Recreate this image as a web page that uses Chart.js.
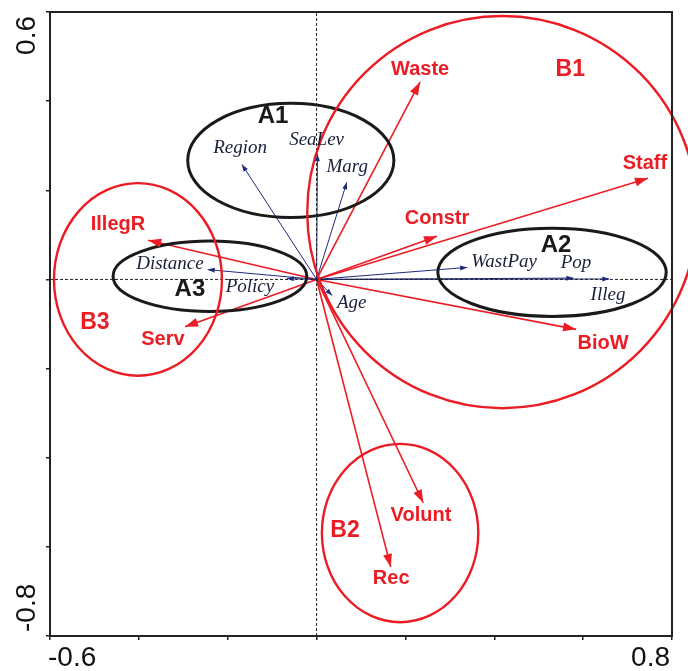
<!DOCTYPE html>
<html>
<head>
<meta charset="utf-8">
<script src="https://cdn.jsdelivr.net/npm/chart.js@4.4.0/dist/chart.umd.min.js"></script>
<style>
  html, body { margin: 0; padding: 0; background: #fff; }
  #wrap { width: 688px; height: 671px; }
</style>
</head>
<body>
<div id="wrap"><canvas id="c" width="688" height="671"></canvas></div>
<script>
// ── Data ──────────────────────────────────────────────────────────────────────
// response variables (red arrows, tip coordinates)
const redNames  = ["Waste", "Staff", "Constr", "BioW", "IllegR", "Serv", "Volunt", "Rec"];
const redX      = [0.233, 0.746, 0.271, 0.584, -0.379, -0.296, 0.240, 0.167];
const redY      = [0.443, 0.227, 0.097, -0.112, 0.088, -0.106, -0.501, -0.645];
const redLabelX = [0.233, 0.739, 0.271, 0.645, -0.447, -0.346, 0.235, 0.168];
const redLabelY = [0.470, 0.261, 0.137, -0.144, 0.124, -0.135, -0.530, -0.670];

// explanatory variables (blue arrows)
const blueNames  = ["Region", "SeaLev", "Marg", "WastPay", "Pop", "Illeg", "Distance", "Policy", "Age"];
const blueX      = [-0.168, 0.002, 0.068, 0.339, 0.578, 0.659, -0.245, -0.067, 0.035];
const blueY      = [0.258, 0.281, 0.218, 0.027, 0.003, 0.001, 0.022, 0.002, -0.036];
const blueLabelX = [-0.172, 0.000, 0.069, 0.422, 0.584, 0.656, -0.330, -0.150, 0.079];
const blueLabelY = [0.294, 0.312, 0.252, 0.040, 0.036, -0.036, 0.034, -0.018, -0.052];

// groups (ellipses): centre, radii in axis units
const groupNames = ["A1", "A2", "A3", "B1", "B2", "B3"];
const groupCx    = [-0.058, 0.530, -0.240, 0.418, 0.188, -0.402];
const groupCy    = [0.267, 0.016, 0.007, 0.151, -0.569, 0.000];
const groupRx    = [0.232, 0.257, 0.218, 0.439, 0.176, 0.189];
const groupRy    = [0.128, 0.099, 0.079, 0.440, 0.200, 0.216];
const groupLabelX = [-0.098, 0.539, -0.285, 0.571, 0.064, -0.499];
const groupLabelY = [0.366, 0.076, -0.022, 0.470, -0.564, -0.097];

// axes
const xRange = [-0.6, 0.8];
const yRange = [-0.8, 0.6];
const tickStep = 0.2;
const xTickLabels = ["-0.6", "0.8"];
const yTickLabels = ["-0.8", "0.6"];

const RED  = "#ec1c24";
const NAVY = "#1c2a7c";
const INK  = "#1a1a1a";

// ── Datasets ──────────────────────────────────────────────────────────────────
const datasets = [
  { data: [{ x: xRange[0], y: 0 }, { x: xRange[1], y: 0 }], borderColor: "#222", borderWidth: 1, borderDash: [3, 2], showLine: true, pointRadius: 0 },
  { data: [{ x: 0, y: yRange[0] }, { x: 0, y: yRange[1] }], borderColor: "#222", borderWidth: 1, borderDash: [3, 2], showLine: true, pointRadius: 0 },
];
blueNames.forEach((n, i) => datasets.push({
  label: n, kind: "blue",
  data: [{ x: 0, y: 0 }, { x: blueX[i], y: blueY[i] }],
  borderColor: NAVY, borderWidth: 1, showLine: true, pointRadius: 0,
}));
redNames.forEach((n, i) => datasets.push({
  label: n, kind: "red",
  data: [{ x: 0, y: 0 }, { x: redX[i], y: redY[i] }],
  borderColor: RED, borderWidth: 1.6, showLine: true, pointRadius: 0,
}));

// ── Overlay: arrow heads, ellipses, labels, frame ─────────────────────────────
function arrowHead(ctx, x0, y0, x1, y1, len, half, color) {
  const a = Math.atan2(y1 - y0, x1 - x0);
  const bx = x1 - len * Math.cos(a), by = y1 - len * Math.sin(a);
  ctx.beginPath();
  ctx.moveTo(x1, y1);
  ctx.lineTo(bx - half * Math.sin(a), by + half * Math.cos(a));
  ctx.lineTo(bx + half * Math.sin(a), by - half * Math.cos(a));
  ctx.closePath();
  ctx.fillStyle = color;
  ctx.fill();
}

function text(ctx, s, x, y, font, color) {
  ctx.font = font;
  ctx.fillStyle = color;
  ctx.textAlign = "center";
  ctx.textBaseline = "middle";
  ctx.fillText(s, x, y);
}

const overlay = {
  id: "overlay",
  afterDatasetsDraw(chart) {
    const { ctx, scales: { x, y } } = chart;
    const px = v => x.getPixelForValue(v), py = v => y.getPixelForValue(v);
    ctx.save();

    // group ellipses
    groupNames.forEach((g, i) => {
      const cx = px(groupCx[i]), cy = py(groupCy[i]);
      const rx = px(groupCx[i] + groupRx[i]) - cx;
      const ry = cy - py(groupCy[i] + groupRy[i]);
      ctx.beginPath();
      ctx.ellipse(cx, cy, rx, ry, 0, 0, Math.PI * 2);
      ctx.lineWidth = g[0] === "A" ? 3 : 2.4;
      ctx.strokeStyle = g[0] === "A" ? INK : RED;
      ctx.stroke();
    });

    // arrow heads
    const o = { x: px(0), y: py(0) };
    blueNames.forEach((n, i) => arrowHead(ctx, o.x, o.y, px(blueX[i]), py(blueY[i]), 7, 2.5, NAVY));
    redNames.forEach((n, i) => arrowHead(ctx, o.x, o.y, px(redX[i]), py(redY[i]), 13, 4.5, RED));

    // labels
    blueNames.forEach((n, i) => text(ctx, n, px(blueLabelX[i]), py(blueLabelY[i]), 'italic 19px "Liberation Serif"', "#1a1f3a"));
    redNames.forEach((n, i) => text(ctx, n, px(redLabelX[i]), py(redLabelY[i]), 'bold 20px "Liberation Sans"', RED));
    groupNames.forEach((g, i) => text(ctx, g, px(groupLabelX[i]), py(groupLabelY[i]),
      g[0] === "A" ? 'bold 24px "Liberation Sans"' : 'bold 23px "Liberation Sans"', g[0] === "A" ? INK : RED));

    ctx.restore();
  },
  afterDraw(chart) {
    const { ctx, chartArea: a, scales: { x, y } } = chart;
    ctx.save();
    ctx.strokeStyle = "#222";
    ctx.lineWidth = 2;
    ctx.strokeRect(a.left, a.top, a.right - a.left, a.bottom - a.top);

    // tick labels, only at the ends, kept inside the frame edges
    ctx.fillStyle = "#111";
    ctx.font = '28px "Liberation Sans"';
    ctx.textBaseline = "alphabetic";
    ctx.textAlign = "left";
    ctx.fillText(xTickLabels[0], x.getPixelForValue(xRange[0]) - 2, a.bottom + 30);
    ctx.textAlign = "right";
    ctx.fillText(xTickLabels[1], x.getPixelForValue(xRange[1]) - 2, a.bottom + 30);

    ctx.translate(35, 0);
    ctx.rotate(-Math.PI / 2);
    ctx.textAlign = "left";
    ctx.fillText(yTickLabels[0], -(y.getPixelForValue(yRange[0]) - 4), 0);
    ctx.textAlign = "right";
    ctx.fillText(yTickLabels[1], -(y.getPixelForValue(yRange[1]) + 4), 0);
    ctx.restore();
  },
};

// ── Chart ─────────────────────────────────────────────────────────────────────
const axisOpts = (range) => ({
  type: "linear",
  min: range[0], max: range[1],
  ticks: { display: false, stepSize: tickStep },
  grid: { drawOnChartArea: false, drawTicks: true, tickLength: 4, color: "#222", lineWidth: 1.5 },
  border: { display: false },
});

new Chart(document.getElementById("c"), {
  type: "scatter",
  data: { datasets },
  options: {
    responsive: false,
    animation: false,
    devicePixelRatio: 1,
    layout: { padding: { left: 46, top: 12, right: 16, bottom: 31 } },
    plugins: { legend: { display: false }, tooltip: { enabled: false } },
    scales: { x: axisOpts(xRange), y: axisOpts(yRange) },
  },
  plugins: [overlay],
});
</script>
</body>
</html>
